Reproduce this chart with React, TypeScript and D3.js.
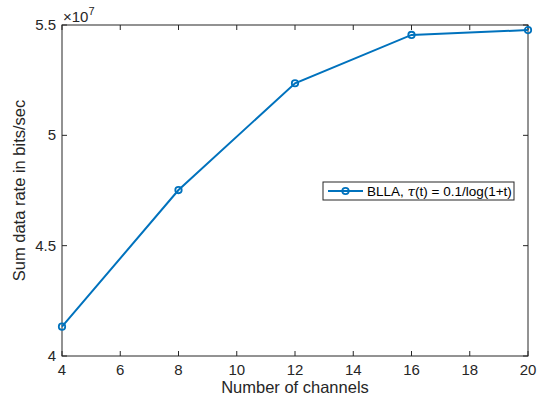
import React, { useEffect, useRef } from "react";
import * as d3 from "d3";

const channels = [4, 8, 12, 16, 20];
const sumRate = [4.133, 4.752, 5.236, 5.455, 5.477]; // x 10^7 bits/sec
const xTicks = [4, 6, 8, 10, 12, 14, 16, 18, 20];
const yTicks = [4, 4.5, 5, 5.5];
const seriesName = "BLLA";

const App = () => {
    const svgRef = useRef<SVGSVGElement>(null);

    useEffect(() => {
        const width = 553, height = 403;
        const margin = { top: 25, right: 25, bottom: 47, left: 62 };
        const innerW = width - margin.left - margin.right;
        const innerH = height - margin.top - margin.bottom;
        const axisColor = "#262626";
        const lineColor = "#0072BD";
        const font = "'Liberation Sans', Arial, Helvetica, sans-serif";

        const svg = d3.select(svgRef.current)
            .attr("width", width)
            .attr("height", height)
            .style("font-family", font);

        svg.selectAll("*").remove();

        svg.append("rect").attr("width", width).attr("height", height).attr("fill", "white");

        const x = d3.scaleLinear().domain([4, 20]).range([0, innerW]);
        const y = d3.scaleLinear().domain([4, 5.5]).range([innerH, 0]);

        const g = svg.append("g")
            .attr("transform", `translate(${margin.left}, ${margin.top})`);

        // box
        g.append("rect")
            .attr("width", innerW)
            .attr("height", innerH)
            .attr("fill", "white")
            .attr("stroke", axisColor)
            .attr("stroke-width", 1);

        const tickLen = 5;
        // x ticks (bottom & top, inward)
        xTicks.forEach(t => {
            g.append("line").attr("x1", x(t)).attr("x2", x(t))
                .attr("y1", innerH).attr("y2", innerH - tickLen)
                .attr("stroke", axisColor);
            g.append("line").attr("x1", x(t)).attr("x2", x(t))
                .attr("y1", 0).attr("y2", tickLen)
                .attr("stroke", axisColor);
            g.append("text")
                .attr("x", x(t)).attr("y", innerH + 19)
                .attr("text-anchor", "middle")
                .attr("font-size", 15)
                .attr("fill", axisColor)
                .text(t);
        });

        yTicks.forEach(t => {
            g.append("line").attr("x1", 0).attr("x2", tickLen)
                .attr("y1", y(t)).attr("y2", y(t))
                .attr("stroke", axisColor);
            g.append("line").attr("x1", innerW).attr("x2", innerW - tickLen)
                .attr("y1", y(t)).attr("y2", y(t))
                .attr("stroke", axisColor);
            g.append("text")
                .attr("x", -6).attr("y", y(t) + 5)
                .attr("text-anchor", "end")
                .attr("font-size", 15)
                .attr("fill", axisColor)
                .text(t);
        });

        // exponent
        const expo = g.append("text")
            .attr("x", 1).attr("y", -3)
            .attr("font-size", 15)
            .attr("fill", axisColor);
        expo.append("tspan").text("\u00d710");
        expo.append("tspan").attr("dy", -7).attr("font-size", 11).text("7");

        // axis labels
        g.append("text")
            .attr("x", innerW / 2).attr("y", innerH + 37)
            .attr("text-anchor", "middle")
            .attr("font-size", 16.5)
            .attr("fill", axisColor)
            .text("Number of channels");

        g.append("text")
            .attr("transform", `translate(${-37}, ${innerH / 2}) rotate(-90)`)
            .attr("text-anchor", "middle")
            .attr("font-size", 16.5)
            .attr("fill", axisColor)
            .text("Sum data rate in bits/sec");

        const pts = channels.map((c, i) => [c, sumRate[i]] as [number, number]);

        const line = d3.line<[number, number]>()
            .x(d => x(d[0]))
            .y(d => y(d[1]));

        g.append("path")
            .datum(pts)
            .attr("d", line)
            .attr("fill", "none")
            .attr("stroke", lineColor)
            .attr("stroke-width", 2);

        g.selectAll(".marker")
            .data(pts)
            .enter()
            .append("circle")
            .attr("class", "marker")
            .attr("cx", d => x(d[0]))
            .attr("cy", d => y(d[1]))
            .attr("r", 3.2)
            .attr("fill", "none")
            .attr("stroke", lineColor)
            .attr("stroke-width", 1.8);

        // legend
        const lg = svg.append("g").attr("transform", "translate(323, 182)");
        lg.append("rect")
            .attr("width", 191).attr("height", 18)
            .attr("fill", "white")
            .attr("stroke", axisColor)
            .attr("stroke-width", 1);
        lg.append("line")
            .attr("x1", 5).attr("x2", 40)
            .attr("y1", 9).attr("y2", 9)
            .attr("stroke", lineColor).attr("stroke-width", 2);
        lg.append("circle")
            .attr("cx", 22.5).attr("cy", 9).attr("r", 3.2)
            .attr("fill", "none")
            .attr("stroke", lineColor).attr("stroke-width", 1.8);
        const lt = lg.append("text")
            .attr("x", 44).attr("y", 14)
            .attr("font-size", 13.5)
            .attr("fill", "#000");
        lt.append("tspan").text(`${seriesName}, `);
        lt.append("tspan").attr("font-style", "italic").attr("font-family", "'DejaVu Serif', serif").text("\u03c4");
        lt.append("tspan").text("(t) = 0.1/log(1+t)");
    }, []);

    return <svg ref={svgRef} style={{ display: "block", position: "absolute", left: 0, top: 0 }}></svg>;
};

export default App;
